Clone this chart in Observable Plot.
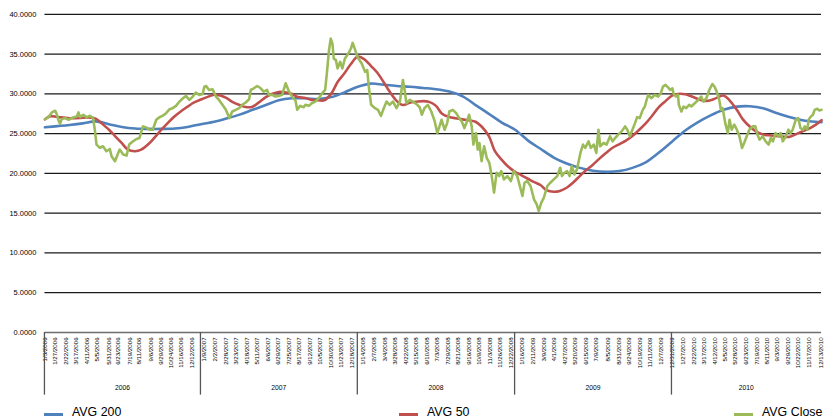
<!DOCTYPE html>
<html>
<head>
<meta charset="utf-8">
<script src="https://cdn.jsdelivr.net/npm/d3@7"></script>
<script src="https://cdn.jsdelivr.net/npm/@observablehq/plot@0.6"></script>
<style>
  body { margin: 0; background: #fff; }
  #wrap { position: relative; width: 825px; height: 418px; overflow: hidden; background: #fff;
          font-family: "Liberation Sans", Arial, sans-serif; }
  #chart { position: absolute; left: 0; top: 0; }
  .leg { position: absolute; top: 404px; height: 16px; white-space: nowrap; font-size: 12.4px; line-height: 16px; color: #000; }
  .leg .sw { position: absolute; left: 0; top: 8.5px; width: 19px; height: 3px; }
  .leg .tx { position: absolute; left: 28px; top: 0; }
</style>
</head>
<body>
<div id="wrap">
  <div id="chart"></div>
  <div id="legend"></div>
</div>
<script>
// ---------------- data ----------------
const seriesNames = ["AVG 200", "AVG 50", "AVG Close"];
const seriesColors = ["#4F81BD", "#C0504D", "#9BBB59"];

const yTicks = [0, 5, 10, 15, 20, 25, 30, 35, 40];

const xTickLabels = [
  "1/3/2006","1/27/2006","2/22/2006","3/17/2006","4/11/2006","5/5/2006","5/31/2006","6/23/2006","7/19/2006","8/11/2006","9/6/2006","9/29/2006","10/24/2006","11/16/2006","12/12/2006",
  "1/9/2007","2/2/2007","2/28/2007","3/23/2007","4/18/2007","5/11/2007","6/6/2007","6/29/2007","7/25/2007","8/17/2007","9/12/2007","10/5/2007","10/30/2007","11/23/2007","12/18/2007",
  "1/14/2008","2/7/2008","3/4/2008","3/28/2008","4/22/2008","5/15/2008","6/10/2008","7/3/2008","7/29/2008","8/21/2008","9/16/2008","10/9/2008","11/3/2008","11/26/2008","12/22/2008",
  "1/16/2009","2/11/2009","3/9/2009","4/1/2009","4/27/2009","5/20/2009","6/15/2009","7/9/2009","8/5/2009","8/31/2009","9/24/2009","10/19/2009","11/11/2009","12/7/2009","12/31/2009",
  "1/27/2010","2/22/2010","3/17/2010","4/12/2010","5/5/2010","5/28/2010","6/23/2010","7/19/2010","8/11/2010","9/3/2010","9/29/2010","10/22/2010","11/17/2010","12/13/2010"
];

const years = ["2006", "2007", "2008", "2009", "2010"];
const firstDate = "2006-01-03";
const lastDate = "2010-12-15";

const avg200Dates = [
  "2006-01-03","2006-02-01","2006-03-01","2006-04-01","2006-05-01","2006-06-01","2006-07-01","2006-08-01","2006-09-01","2006-10-01","2006-11-01","2006-12-01",
  "2007-01-01","2007-02-01","2007-03-01","2007-04-01","2007-05-01","2007-06-01","2007-07-01","2007-08-01","2007-09-01","2007-10-01","2007-11-01","2007-12-01",
  "2008-01-01","2008-02-01","2008-03-01","2008-04-01","2008-05-01","2008-06-01","2008-07-01","2008-08-01","2008-09-01","2008-10-01","2008-11-01","2008-12-01",
  "2009-01-01","2009-02-01","2009-03-01","2009-04-01","2009-05-01","2009-06-01","2009-07-01","2009-08-01","2009-09-01","2009-10-01","2009-11-01","2009-12-01",
  "2010-01-01","2010-02-01","2010-03-01","2010-04-01","2010-05-01","2010-06-01","2010-07-01","2010-08-01","2010-09-01","2010-10-01","2010-11-01","2010-12-01","2010-12-15"
];
const avg200Values = [
  25.8,25.95,26.1,26.3,26.55,26.2,25.85,25.65,25.6,25.6,25.65,25.85,
  26.2,26.5,26.9,27.4,28.0,28.6,29.2,29.45,29.45,29.35,29.6,30.2,
  30.9,31.3,31.15,31.0,30.9,30.75,30.6,30.3,29.7,28.6,27.5,26.4,
  25.5,24.1,23.1,22.0,21.25,20.7,20.35,20.2,20.3,20.7,21.4,22.6,
  24.0,25.4,26.4,27.3,28.0,28.4,28.45,28.2,27.6,27.1,26.7,26.5,26.45
];

const avg50Dates = [
  "2006-01-03","2006-01-15","2006-02-01","2006-03-01","2006-04-01","2006-04-15","2006-05-01","2006-05-15","2006-06-01","2006-06-15","2006-07-01","2006-07-15","2006-08-01","2006-08-15","2006-09-01","2006-09-15","2006-10-01","2006-10-15","2006-11-01","2006-11-15","2006-12-01","2006-12-15",
  "2007-01-01","2007-01-15","2007-02-01","2007-02-15","2007-03-01","2007-03-15","2007-04-01","2007-04-15","2007-05-01","2007-05-15","2007-06-01","2007-06-15","2007-07-01","2007-07-15","2007-08-01","2007-08-15","2007-09-01","2007-09-15","2007-10-01","2007-10-15","2007-11-01","2007-11-15","2007-12-01","2007-12-15",
  "2008-01-01","2008-01-15","2008-02-01","2008-02-15","2008-03-01","2008-03-15","2008-04-01","2008-04-15","2008-05-01","2008-05-15","2008-06-01","2008-06-15","2008-07-01","2008-07-15","2008-08-01","2008-08-15","2008-09-01","2008-09-15","2008-10-01","2008-10-15","2008-11-01","2008-11-15","2008-12-01","2008-12-15",
  "2009-01-01","2009-01-15","2009-02-01","2009-02-15","2009-03-01","2009-03-15","2009-04-01","2009-04-15","2009-05-01","2009-05-15","2009-06-01","2009-06-15","2009-07-01","2009-07-15","2009-08-01","2009-08-15","2009-09-01","2009-09-15","2009-10-01","2009-10-15","2009-11-01","2009-11-15","2009-12-01","2009-12-15",
  "2010-01-01","2010-01-15","2010-02-01","2010-02-15","2010-03-01","2010-03-15","2010-04-01","2010-04-15","2010-05-01","2010-05-15","2010-06-01","2010-06-15","2010-07-01","2010-07-15","2010-08-01","2010-08-15","2010-09-01","2010-09-15","2010-10-01","2010-10-15","2010-11-01","2010-11-15","2010-12-01","2010-12-15"
];
const avg50Values = [
  26.8,27.2,27.1,26.95,27.0,27.05,26.9,26.3,25.5,24.7,23.8,23.0,22.8,23.0,23.7,24.5,25.5,26.3,27.2,27.8,28.4,28.9,
  29.3,29.6,29.9,29.8,29.5,29.0,28.6,28.35,28.4,28.9,29.6,30.0,30.25,30.2,30.0,29.6,29.5,29.25,29.2,29.2,30.1,31.5,32.6,33.7,
  34.7,34.4,33.5,32.7,31.5,30.3,29.1,28.6,28.9,29.0,29.1,29.0,28.5,27.5,27.1,26.95,26.8,26.7,26.5,25.9,24.7,22.8,21.7,20.9,
  20.2,19.8,19.3,18.9,18.55,17.9,17.7,17.8,18.2,18.8,19.7,20.4,21.1,21.8,22.6,23.2,23.7,24.1,24.7,25.4,26.3,27.2,28.3,29.0,
  29.8,30.0,29.95,29.7,29.4,29.15,29.2,29.5,29.8,29.2,28.0,26.8,25.9,25.3,24.9,24.8,24.7,24.65,24.6,24.9,25.3,25.6,26.1,26.7
];

const closeDates = [
  "2006-01-03","2006-01-11","2006-01-19","2006-01-27","2006-01-31","2006-02-03","2006-02-07","2006-02-11","2006-02-19","2006-02-27","2006-03-06","2006-03-18","2006-03-22","2006-03-26","2006-04-02","2006-04-10","2006-04-18","2006-04-25","2006-04-29",
  "2006-05-03","2006-05-11","2006-05-18","2006-05-26","2006-06-03","2006-06-07","2006-06-15","2006-06-22","2006-06-26","2006-07-04","2006-07-12","2006-07-18","2006-07-27","2006-08-04","2006-08-11","2006-08-19","2006-08-27",
  "2006-09-03","2006-09-11","2006-09-19","2006-09-27","2006-10-04","2006-10-12","2006-10-20","2006-10-27","2006-11-04","2006-11-12","2006-11-20","2006-11-27","2006-12-05","2006-12-13","2006-12-20","2006-12-28",
  "2007-01-05","2007-01-09","2007-01-13","2007-01-20","2007-01-28","2007-02-05","2007-02-12","2007-02-20","2007-02-28","2007-03-08","2007-03-15","2007-03-23","2007-03-31","2007-04-07","2007-04-15","2007-04-23","2007-04-27",
  "2007-05-04","2007-05-12","2007-05-20","2007-05-27","2007-06-04","2007-06-08","2007-06-16","2007-06-23","2007-07-01","2007-07-09","2007-07-17","2007-07-24","2007-08-01","2007-08-09","2007-08-13","2007-08-20","2007-08-28",
  "2007-09-01","2007-09-09","2007-09-16","2007-09-24","2007-10-02","2007-10-09","2007-10-17","2007-10-21","2007-10-26","2007-10-30","2007-11-03","2007-11-06","2007-11-11","2007-11-15","2007-11-21","2007-11-26","2007-12-02","2007-12-10","2007-12-16","2007-12-20","2007-12-26","2007-12-31",
  "2008-01-10","2008-01-18","2008-01-23","2008-01-27","2008-02-01","2008-02-10","2008-02-17","2008-02-24","2008-02-29","2008-03-08","2008-03-15","2008-03-23","2008-03-31","2008-04-08","2008-04-15","2008-04-19","2008-04-23",
  "2008-05-01","2008-05-08","2008-05-16","2008-05-24","2008-05-29","2008-06-04","2008-06-12","2008-06-20","2008-06-28","2008-07-04","2008-07-09","2008-07-14","2008-07-21","2008-07-27","2008-08-01","2008-08-09","2008-08-17","2008-08-24","2008-08-30",
  "2008-09-05","2008-09-11","2008-09-16","2008-09-22","2008-09-26","2008-10-02","2008-10-06","2008-10-10","2008-10-15","2008-10-21","2008-10-27","2008-11-02","2008-11-07","2008-11-13","2008-11-19","2008-11-25","2008-11-30","2008-12-06","2008-12-14","2008-12-22","2008-12-29",
  "2009-01-06","2009-01-12","2009-01-18","2009-01-23","2009-01-29","2009-02-06","2009-02-14","2009-02-20","2009-02-25","2009-03-03","2009-03-09","2009-03-17","2009-03-24","2009-04-01","2009-04-09","2009-04-16","2009-04-20","2009-04-26",
  "2009-05-02","2009-05-08","2009-05-13","2009-05-19","2009-05-25","2009-06-02","2009-06-08","2009-06-13","2009-06-21","2009-06-26","2009-07-03","2009-07-09","2009-07-14","2009-07-18","2009-07-26","2009-08-02","2009-08-10","2009-08-16","2009-08-22","2009-08-29",
  "2009-09-06","2009-09-14","2009-09-19","2009-09-25","2009-10-01","2009-10-07","2009-10-12","2009-10-18","2009-10-25","2009-10-30","2009-11-03","2009-11-07","2009-11-14","2009-11-22","2009-11-30","2009-12-06","2009-12-11","2009-12-17","2009-12-23","2009-12-28",
  "2010-01-02","2010-01-05","2010-01-10","2010-01-15","2010-01-17","2010-01-23","2010-01-28","2010-02-03","2010-02-10","2010-02-15","2010-02-23","2010-03-02","2010-03-10","2010-03-15","2010-03-22","2010-03-29","2010-04-05","2010-04-10","2010-04-15","2010-04-21","2010-04-25","2010-04-29",
  "2010-05-05","2010-05-11","2010-05-15","2010-05-20","2010-05-26","2010-06-01","2010-06-07","2010-06-13","2010-06-18","2010-06-24","2010-06-30","2010-07-08","2010-07-14","2010-07-19","2010-07-24","2010-07-31","2010-08-07","2010-08-14","2010-08-19","2010-08-24","2010-08-30",
  "2010-09-06","2010-09-11","2010-09-16","2010-09-23","2010-09-29","2010-10-04","2010-10-09","2010-10-16","2010-10-22","2010-10-27","2010-11-02","2010-11-06","2010-11-12","2010-11-15","2010-11-19","2010-11-25","2010-11-29","2010-12-05","2010-12-10","2010-12-15"
];
const closeValues = [
  26.83,27.08,27.67,27.88,27.38,26.75,26.25,26.83,26.96,26.75,26.96,27.17,27.67,27.08,27.38,27.08,27.25,26.96,25.5,
  23.63,23.21,23.42,22.79,23.08,22.17,21.54,22.5,23.0,22.38,22.25,23.63,24.04,24.33,24.46,25.92,25.79,
  25.5,25.5,26.75,27.08,27.25,27.58,28.08,28.21,28.5,29.04,29.46,29.75,29.25,29.67,30.17,29.88,
  30.0,30.92,31.0,30.5,30.58,29.67,29.25,28.63,28.0,26.96,27.79,28.0,28.21,28.63,28.92,29.33,30.5,
  30.71,31.0,30.71,30.29,30.5,29.88,29.88,29.67,29.75,29.88,31.33,30.42,29.67,29.17,28.0,28.5,28.33,
  28.63,28.5,28.83,29.04,29.46,30.0,30.5,32.58,35.5,36.96,36.33,34.46,34.25,33.21,34.04,33.21,34.46,35.08,35.71,36.42,35.5,34.67,
  33.83,32.79,33.0,30.71,28.63,28.21,28.0,27.25,28.0,29.04,28.63,29.04,28.21,29.04,31.75,30.5,28.83,
  29.25,29.04,28.75,28.33,27.38,28.21,28.63,27.79,26.54,25.08,25.92,26.75,25.5,26.33,27.79,28.0,27.58,26.96,26.54,
  25.71,26.54,27.38,25.92,23.63,25.08,23.0,23.83,21.54,23.42,21.96,21.33,19.88,17.58,20.08,19.67,20.29,19.25,19.67,19.04,20.29,
  19.67,18.42,17.17,18.83,19.04,18.42,16.75,16.13,15.29,16.33,16.96,18.42,18.83,19.25,19.67,20.71,19.67,20.08,
  20.29,19.67,20.92,19.88,20.5,22.58,23.63,23.21,24.04,23.21,23.63,22.58,25.5,23.42,23.83,23.63,24.67,24.04,24.46,24.88,
  25.29,25.92,25.5,24.67,25.5,26.33,27.08,26.96,28.0,28.42,29.25,29.88,29.46,29.88,29.67,30.08,30.92,31.13,30.83,30.5,
  30.71,30.0,29.67,29.88,28.63,27.79,28.42,28.21,28.63,28.42,28.83,29.17,29.67,29.04,29.46,30.5,31.25,30.92,30.29,29.25,28.0,28.21,
  26.33,25.08,26.75,25.5,26.13,25.5,24.67,23.21,23.83,24.67,25.5,25.92,25.92,24.88,24.25,24.67,24.04,23.63,24.46,24.04,25.08,
  24.67,25.08,24.04,24.67,25.5,25.08,25.5,26.75,26.96,25.71,25.5,25.92,25.5,26.75,27.08,27.38,28.0,28.13,27.92,28.0
];

// ---------------- build ----------------
const parseISO = d3.utcParse("%Y-%m-%d");
const parseMDY = d3.utcParse("%m/%d/%Y");
const toRows = (dates, values, name) => dates.map((d, i) => ({date: parseISO(d), value: values[i], series: name}));
const avg200 = toRows(avg200Dates, avg200Values, seriesNames[0]);
const avg50 = toRows(avg50Dates, avg50Values, seriesNames[1]);
const close = toRows(closeDates, closeValues, seriesNames[2]);
const tickDates = xTickLabels.map(parseMDY);
const labelByTime = new Map(tickDates.map((d, i) => [+d, xTickLabels[i]]));

const fontStack = '"Liberation Sans", Arial, sans-serif';

const chart = Plot.plot({
  width: 830,
  height: 400,
  marginLeft: 44.7,
  marginRight: 4,
  marginTop: 14,
  marginBottom: 66,
  style: {fontFamily: fontStack, color: "#000", background: "#fff", overflow: "visible"},
  x: {type: "utc", domain: [parseISO(firstDate), parseISO(lastDate)]},
  y: {domain: [0, 40]},
  marks: [
    Plot.ruleY(yTicks.filter(v => v > 0), {stroke: "#1a1a1a", strokeWidth: 1.2}),
    Plot.ruleY([0], {stroke: "#6e6e6e", strokeWidth: 1.5}),
    Plot.axisY({ticks: yTicks, tickFormat: d => d.toFixed(4), tickSize: 0, tickPadding: 8.7, fontSize: 7.5, label: null}),
    Plot.axisX({ticks: tickDates, tickFormat: d => labelByTime.get(+d), tickRotate: -90, tickSize: 0, tickPadding: 5,
                fontSize: 6.2, label: null}),
    Plot.line(avg200, {x: "date", y: "value", stroke: seriesColors[0], strokeWidth: 2.6, curve: "catmull-rom"}),
    Plot.line(avg50, {x: "date", y: "value", stroke: seriesColors[1], strokeWidth: 2.6, curve: "catmull-rom"}),
    Plot.line(close, {x: "date", y: "value", stroke: seriesColors[2], strokeWidth: 2.6, strokeLinejoin: "round"})
  ]
});

document.getElementById("chart").appendChild(chart);

// year groups below the axis (multi-level category look), using Plot's scales
const xs = chart.scale("x");
const ys = chart.scale("y");
const svg = d3.select(chart);
const y0 = ys.apply(0);
const bounds = [parseISO(firstDate), ...years.slice(1).map(y => parseISO(y + "-01-01")), parseISO(lastDate)];
const g = svg.append("g");
g.selectAll("line").data(bounds.slice(0, -1)).join("line")
  .attr("x1", d => xs.apply(d)).attr("x2", d => xs.apply(d))
  .attr("y1", y0).attr("y2", y0 + 63)
  .attr("stroke", "#555").attr("stroke-width", 1.3);
g.selectAll("text").data(years).join("text")
  .attr("x", (d, i) => (xs.apply(bounds[i]) + xs.apply(bounds[i + 1])) / 2)
  .attr("y", y0 + 58.5)
  .attr("text-anchor", "middle")
  .attr("font-size", 6.8)
  .attr("font-family", fontStack)
  .text(d => d);

// legend
const legendLeft = [44, 399, 734];
const legend = d3.select("#legend");
seriesNames.forEach((name, i) => {
  const item = legend.append("div").attr("class", "leg").style("left", legendLeft[i] + "px");
  item.append("div").attr("class", "sw").style("background", seriesColors[i]);
  item.append("div").attr("class", "tx").text(name);
});
</script>
</body>
</html>
